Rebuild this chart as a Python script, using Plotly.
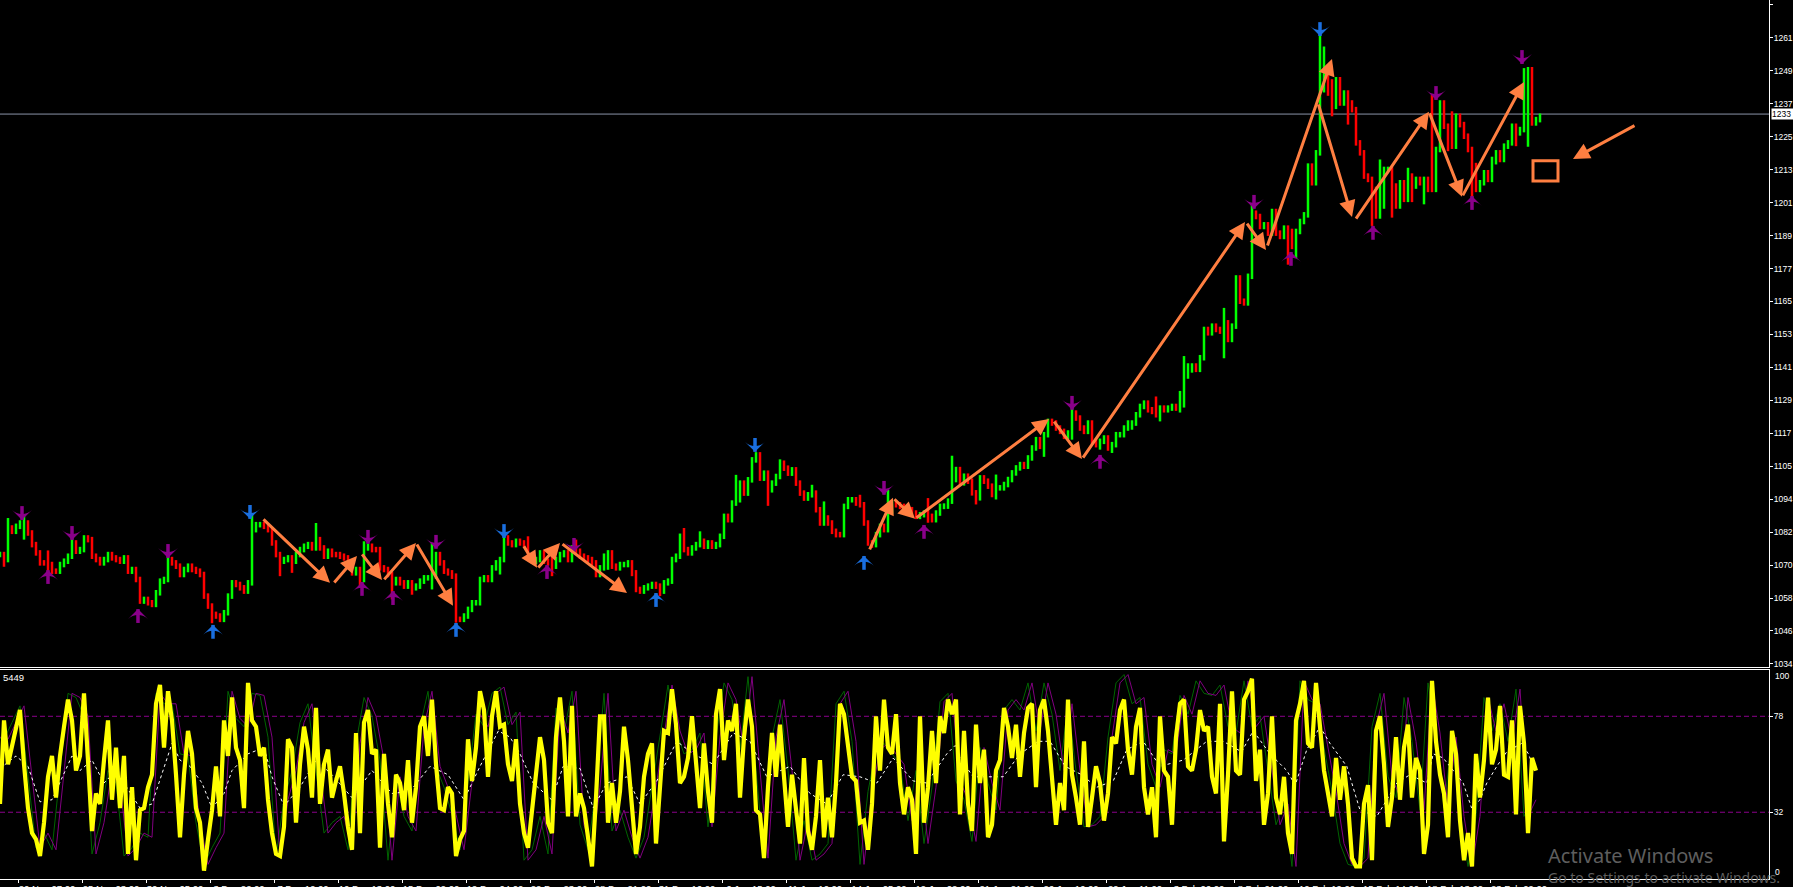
import plotly.graph_objects as go
from plotly.subplots import make_subplots

close_a = [1073.5,1071.7,1083.1,1081.9,1083.7,1084.9,1084.9,1081.3,1077.1,1074.1,1070.5,1070.5,1069.9,1067.5,1067.5,1069.9,1071.1,1072.9,1077.7,1074.7,1075.3,1079.5,1078.9,1072.9,1071.7,1070.5,1071.7,1073.5,1072.3,1071.7,1071.1,1072.3,1067.5,1068.1,1064.5,1056.7,1057.3,1056.1,1055.5,1059.7,1063.9,1064.5,1071.7,1070.5,1069.3,1066.3,1068.1,1069.3,1068.1,1067.5,1066.3,1058.5,1054.9,1051.9,1051.3,1050.1,1052.5,1058.5,1063.3,1062.7,1061.5,1060.3,1063.3,1082.5,1084.3,1084.3,1083.7,1082.5,1077.7,1073.5,1071.1,1071.7,1072.3,1071.1,1073.5,1075.3,1076.5,1077.1,1075.9,1078.9,1075.9,1072.9,1074.7,1073.5,1073.5,1072.9,1072.3,1069.9,1066.9,1068.1,1064.5,1075.9,1076.5,1075.3,1075.3,1068.7,1068.1,1066.3,1063.3,1064.5,1063.3,1062.1,1063.3,1061.5,1062.1,1063.9,1065.1,1065.1,1065.7,1073.5,1070.5,1067.5,1066.9,1065.7,1050.1,1050.1,1051.3,1053.7,1056.1,1056.1,1064.5,1065.1,1064.5,1068.7,1070.5,1071.7]
close_b = [1079.5,1077.7,1077.1,1078.3,1077.7,1077.1,1072.9,1071.1,1071.7,1074.1,1071.1,1070.5,1069.3,1071.7,1073.5,1074.1,1071.7,1075.9,1074.7,1072.9,1072.3,1071.7,1070.5,1066.3,1068.7,1072.9,1074.1,1069.3,1068.7,1069.9,1069.9,1070.5,1066.9,1060.9,1060.3,1061.5,1062.1,1062.7,1062.1,1060.3,1063.3,1063.9,1071.7,1072.9,1080.1,1075.3,1074.1,1075.9,1077.1,1078.3,1076.5,1077.7,1076.5,1077.1,1080.1,1087.3,1086.1,1092.1,1093.3,1099.3,1095.7,1100.5,1107.7,1109.5,1101.1,1102.9,1096.9,1099.3,1101.7,1106.5,1104.7,1102.9,1104.1,1099.3,1095.7,1093.9,1095.1,1095.7,1089.7,1084.9,1086.7,1084.9,1081.9,1080.7,1080.7,1090.9,1093.3,1093.3,1092.1,1091.5,1084.9,1077.7,1077.1,1080.7,1083.7,1082.5,1089.1,1092.1,1091.5,1090.9,1089.1,1089.7,1088.5,1087.3,1087.9,1088.5,1087.3,1086.1,1088.5,1090.9]
close_c = [1091,1092.8,1100.6,1104.2,1099.4,1101.8,1100,1095.8,1094,1101.2,1100,1098.2,1095.2,1097.6,1097.6,1098.8,1100.6,1103,1104.8,1106,1105.4,1108.4,1112,1115,1112.6,1116.8,1121.6,1121,1119.2,1118,1116.2,1117.4,1124.6,1122.8,1119.2,1118,1121,1114.4,1113.2,1114.4,1115.6,1112,1113.2,1116.8,1116.8,1119.2,1121,1121,1124,1127,1128.2,1125.8,1125.2,1124,1126.4,1125.8,1126.4,1127,1126.4,1127.6]
close_d = [1138,1141.6,1141.6,1140.4,1144.6,1154.8,1153.6,1156,1154.8,1154.2,1157.2,1151.2,1156,1173.4,1165,1164.4,1174,1196.8,1195.6,1192,1192.6,1189.6,1197.4,1189.6,1188.4,1191.4,1190.2,1184.8,1190.2,1193.8,1196.2,1213.8,1207.8]
close_e = [1218.6,1241.4,1248.6,1240.2,1235.4,1245,1236.6,1240.2,1236.6,1234.2,1222.2,1218.6,1210.2,1209,1205.4,1195.8,1199.4,1212.6,1212.6,1206.6,1199.4,1207.8,1201.8,1210.2,1206.6,1209,1207.8,1209,1205.4,1205.4,1219.8,1236.6,1228.2,1225.8,1221,1231.8,1228.8,1224.6,1219.8,1213.8,1205.4,1207.8,1211.4,1209,1216.2,1218.6,1216.2,1221,1222.2,1228.2,1225.8,1227,1240.2,1248.6,1229.4,1230.6,1231.8]
closes = close_a + close_b + close_c + close_d + close_e

spike_high_bars = [2,6,12,18,42,63,79,91,108,132,138,144,152,171,175,184,195,203,206,215,222,232,238,249,268,289,295,296,306,313,318,319,330,331,333,345,352,358,363,369,381,383]
spike_high_vals = [1086.7,1087.5,1075,1080.7,1073.9,1087.9,1084.9,1078.3,1077.7,1080.1,1074.7,1078.9,1075,1083.1,1081.9,1102.3,1107.9,1098.7,1092.7,1095.1,1096.9,1093.9,1109.2,1102.4,1127.2,1130.6,1132.6,1145.2,1162.6,1200.4,1198.2,1198,1261.2,1257,1245.2,1216.2,1213.2,1239.6,1233.6,1215,1249.2,1236.2]
spike_low_bars = [1,6,12,53,70,73,90,98,103,108,114,125,138,152,158,165,192,217,218,222,232,244,249,261,268,275,278,283,290,295,297,298,301,306,322,324,326,329,330,333,337,343,345,348,353,356,362,368,374,379,380,382]
spike_low_vals = [1069.1,1078.9,1067,1048.7,1065.7,1066.9,1062.1,1057.3,1059,1060.9,1048.9,1066.3,1065.7,1068,1065.7,1058.5,1091.1,1080.7,1075.9,1086,1085,1091.6,1093.4,1108.8,1115,1111.4,1110.2,1118.6,1121.6,1124.8,1137,1139.2,1150.6,1144.4,1178.2,1180.6,1200.6,1231.8,1228.8,1231.8,1228.8,1192.2,1197.6,1195.2,1200.8,1200,1219.2,1202.4,1214.4,1221,1231.8,1220.8]

stoch_a = [36,76,55,63,73,81,55,34,22,19,11,27,49,59,39,59,73,86,76,52,59,89,57,23,41,36,57,76,38,63,34,59,12,44,9,33,34,44,50,84,93,63,90,76,50,20,50,71,60,34,27,4,19,33,54,30,76,59,87,63,57,34,94,76,73,59,63,38,22,12,11,25,67,63,27,55,73,62,39,82,36,55,62,39,47,54,41,25,14,70,22,75,81,60,62,15,60,36,20,50,46,33,57,27,44,73,78,59,86,55,34,33,44,41,11,19,23,67,47,63,90,81,49,78,90,73]
stoch_b = [74,55,47,67,36,22,15,34,50,68,57,27,22,68,87,66,30,83,30,41,34,19,6,39,78,78,27,46,27,42,73,57,33,12,25,49,60,65,17,42,71,70,91,74,46,49,58,78,55,34,65,42,27,79,91,57,76,71,84,39,68,86,73,33,31,10,44,70,49,74,49,25,50,33,17,58,23,14,30,57,20,39,20,46,84,79,62,49,47,27,28,14,36,78,52,86,63,60,79,46,31,44,38,12,78,27,44,71,46,78,70,86,79,86,31]
stoch_c = [71,36,23,74,46,62,20,26,52,57,82,73,58,74,49,70,82,84,44,81,86,71,49,26,46,33,86,50,39,26,66,25,39,54,46,28,41,68,65,81,86,62,50,73,82,44,31,44,20,78,52,49,26,68,84,86,54,52,62,81,71,73,49,41,84,18,50,90,52,50,86,90,96,47,62,26,41,78,39,31,49,22,12,76,84,95,65,63,94,74,52,41,30,58,38,54,36,10,6,6,36,45,9,71,78,55,25,39,68,38,63,74,39,58,52,12,26]
stoch_d = [95,66,50,41,20,71,60,28,9,22,6,60,39,57,87,55,62,83,50,49,76,31,83,65,22,58,52]
stoch_main = stoch_a + stoch_b + stoch_c + stoch_d

signal_vals = [68,67,75,83,49,15,22,14,51,89,87,78,12,27,52,46,11,15,22,20,89,84,84,60,59,27,7,15,22,90,77,73,89,88,68,11,38,52,75,84,52,22,27,30,14,65,87,78,57,9,49,30,23,73,90,54,44,31,14,46,79,73,89,
 92,74,80,9,14,30,12,82,70,90,26,14,44,89,23,33,20,10,20,44,68,93,71,60,62,70,25,68,94,86,62,97,52,10,68,86,52,9,28,9,12,17,84,90,66,7,42,62,65,60,55,28,52,17,44,85,89,
 47,38,18,63,46,33,81,86,81,94,71,94,79,52,84,52,25,26,30,68,94,98,84,87,55,44,62,60,88,79,95,89,88,93,73,70,95,73,78,52,26,36,6,95,86,84,62,42,17,7,6,10,73,89,49,39,87,66,33,
 94,70,34,68,30,6,30,87,71,84,66,91,30,38]
signal_bars = list(range(0, len(signal_vals) * 2, 2))

avg_bars = [0,4,7,10,13,18,20,23,26,28,31,35,38,43,45,47.5,50.5,53,56,58,62,66,68,71,75,79,83,88,93,98,102.5,107.5,112,116,120,124.6,
 127.5,130,133.3,137.9,140.8,145,148.3,151.7,156.7,160,164.2,169.2,173.3,178.3,183.3,187.5,191.7,197.5,202.5,206.7,210.8,215,219.2,223.3,228.3,231.7,236.7,238.8,
 240,243.3,246.7,250.8,255,259.6,262.5,266.3,270.4,274.2,278.3,281.7,285.8,290,295.8,301.7,305.8,310.4,313.3,317.5,321.7,323.8,326.7,330,332.5,336.7,340,344.2,349.2,352.5,356.7,
 358.3,360.8,362.5,365.8,367.9,370,371.7,374.2,376.7,380.4,382.1,383.3]
avg_vals = [53,59,54,37,38,59,52,57,46,50,46,34,36,65,57,54,46,34,41,52,60,63,49,35,44,57,50,39,52,41,42,54,50,38,54,71,
 68,60,46,38,54,53,34,46,49,36,47,66,60,55,70,66,49,54,41,36,50,49,46,58,47,46,60,64,
 58,49,49,49,60,66,66,54,50,44,47,62,66,54,57,66,66,61,71,60,52,45,62,73,65,54,33,30,46,50,46,
 60,58,54,46,34,38,46,54,61,65,60,54]

down_purple_bars = [5.5,18,42,92,109,143.5,221,268,313.5,359,380.5]
down_purple_vals = [1086,1078.8,1072.3,1077.4,1075.6,1074.5,1095.1,1125.8,1198.4,1237.7,1250.7]
down_blue_bars = [62.5,126,188.75,330]
down_blue_vals = [1086.4,1079.5,1110.6,1260.8]
up_purple_bars = [12,34.5,90.5,98.25,136.75,231,275,322.75,343.25,368]
up_purple_vals = [1067.9,1053.8,1063.6,1060.3,1069.7,1084.2,1109.5,1182.8,1192.2,1203]
up_blue_bars = [53.25,114,164,216]
up_blue_vals = [1048.1,1048.8,1059.6,1073]

arrow_from_bar = [65.5,83.25,90.25,95.75,104,130.75,134.25,140.25,217.25,223.25,228.75,263.25,270.5,311.5,316.75,329.5,338.75,357.25,365.5,409]
arrow_from_val = [1086.7,1062.9,1074.1,1064,1077.7,1077,1068.3,1077.7,1074.8,1094,1086.4,1122.1,1108,1193.6,1184.6,1236.6,1194.3,1233.4,1202.7,1228.7]
arrow_to_bar = [82.5,89.25,95.5,104,113.25,134.25,140,156.75,223.25,228.75,262.25,270.5,311.25,316.5,333,338,357.25,365.5,381,393.25]
arrow_to_val = [1063.3,1073,1064.3,1077.7,1055,1068.7,1077.7,1059.6,1094,1086.4,1122.5,1108,1193.6,1183.5,1252.5,1195.4,1233.4,1202.7,1244.2,1216.4]

box_bars = [383.25, 389.5]
box_vals = [1208.4, 1215.7]
last_price = 1232.6

price_ticks = [1272,1260.1,1248.2,1236.3,1224.4,1212.5,1200.6,1188.7,1176.8,1164.9,1153,1141.1,1129.2,1117.3,1105.4,1093.5,1081.6,1069.7,1057.8,1045.9,1034]
price_labels = ["1272","1261","1249","1237","1225","1213","1201","1189","1177","1165","1153","1141","1129","1117","1105","1094","1082","1070","1058","1046","1034"]
time_ticks = [4.5 + 16 * k for k in range(24)]
time_labels = ["20 Nov 07:00","25 Nov 03:00","30 Nov 05:00","3 Dec 22:00","7 Dec 19:00","10 Dec 13:00","15 Dec 09:00","19 Dec 04:00","22 Dec 23:00","28 Dec 21:00","31 Dec 16:00","6 Jan 15:00","11 Jan 10:00","14 Jan 05:00","19 Jan 02:00","21 Jan 21:00","26 Jan 16:00","29 Jan 11:00","3 Feb 06:00","8 Feb 01:00","10 Feb 19:00","15 Feb 14:00","18 Feb 13:00","23 Feb 09:00"]

ORANGE = "#FF7F41"
PURPLE = "#8A008A"
BLUE = "#1A6FE0"
FONT = "Liberation Sans"
WICK_PAD = 1.0

bars = list(range(len(closes)))
opens = [closes[0]] + closes[:-1]
highs = [max(o, c) + WICK_PAD for o, c in zip(opens, closes)]
lows = [min(o, c) - WICK_PAD for o, c in zip(opens, closes)]
for b, v in zip(spike_high_bars, spike_high_vals):
    highs[b] = max(highs[b], v)
for b, v in zip(spike_low_bars, spike_low_vals):
    lows[b] = min(lows[b], v)

fig = make_subplots(rows=2, cols=1, shared_xaxes=False, vertical_spacing=0)

fig.add_trace(go.Ohlc(x=bars, open=opens, high=highs, low=lows, close=closes, tickwidth=0,
    increasing=dict(line=dict(color="#00FF00", width=2.5)),
    decreasing=dict(line=dict(color="#FF0000", width=2.5))), row=1, col=1)

def arrows(xs, ys, color, pointing_down):
    stem = [5.0] * len(xs)
    err = dict(type="data", symmetric=False, array=stem if pointing_down else [0] * len(xs),
               arrayminus=[0] * len(xs) if pointing_down else stem,
               thickness=3.5, width=0, color=color)
    fig.add_trace(go.Scatter(x=xs, y=ys, mode="markers", error_y=err,
        marker=dict(symbol="arrow-wide", size=14, color=color, angle=180 if pointing_down else 0,
                    line=dict(width=0)), cliponaxis=False), row=1, col=1)

arrows(down_purple_bars, down_purple_vals, PURPLE, True)
arrows(down_blue_bars, down_blue_vals, BLUE, True)
arrows(up_purple_bars, up_purple_vals, PURPLE, False)
arrows(up_blue_bars, up_blue_vals, BLUE, False)

fig.add_trace(go.Scatter(x=[b - 1 for b in signal_bars], y=signal_vals, mode="lines",
    line=dict(color="#006400", width=1)), row=2, col=1)
fig.add_trace(go.Scatter(x=signal_bars, y=signal_vals, mode="lines",
    line=dict(color="#800080", width=1)), row=2, col=1)
fig.add_trace(go.Scatter(x=avg_bars, y=avg_vals, mode="lines",
    line=dict(color="#FFFFFF", width=1, dash="dot")), row=2, col=1)
fig.add_trace(go.Scatter(x=list(range(len(stoch_main))), y=stoch_main, mode="lines",
    line=dict(color="#FFFF00", width=4.2, shape="linear")), row=2, col=1)

x_range = [0, 442.25]
common_x = dict(range=x_range, showgrid=False, zeroline=False, showline=True, linecolor="white", linewidth=1,
                rangeslider=dict(visible=False), automargin=False)
fig.update_xaxes(domain=[0, 1], showticklabels=False, ticks="", **common_x, row=1, col=1)
fig.update_xaxes(domain=[0, 1], mirror=True, ticks="outside", ticklen=3, tickcolor="white", tickwidth=1,
    tickmode="array", tickvals=time_ticks, ticktext=time_labels, ticklabelshift=29, ticklabelstandoff=-2,
    tickfont=dict(family=FONT, size=9.5, color="white"), **common_x, row=2, col=1)
fig.update_yaxes(domain=[0.2412, 1], range=[1032.9, 1273.8], side="right", showgrid=False, zeroline=False, automargin=False,
    showline=True, linecolor="white", linewidth=1, ticks="outside", ticklen=3, tickcolor="white", tickwidth=1,
    tickmode="array", tickvals=price_ticks, ticktext=price_labels, ticklabelstandoff=-1,
    tickfont=dict(family=FONT, size=8.5, color="white"), row=1, col=1)
fig.update_yaxes(domain=[0, 0.2378], range=[0, 100.2], side="right", showgrid=False, zeroline=False, automargin=False,
    showline=True, linecolor="white", linewidth=1, ticks="outside", ticklen=3, tickcolor="white", tickwidth=1,
    tickmode="array", tickvals=[78, 32], ticktext=["78", "32"], ticklabelstandoff=-1,
    tickfont=dict(family=FONT, size=8.5, color="white"), row=2, col=1)

shapes = [
    dict(type="line", xref="x", yref="y", x0=x_range[0], x1=x_range[1], y0=last_price, y1=last_price,
         line=dict(color="#8A94A8", width=1), layer="below"),
    dict(type="line", xref="x2", yref="y2", x0=x_range[0], x1=x_range[1], y0=78, y1=78,
         line=dict(color="#8B008B", width=1, dash="5px,3px"), layer="below"),
    dict(type="line", xref="x2", yref="y2", x0=x_range[0], x1=x_range[1], y0=32, y1=32,
         line=dict(color="#8B008B", width=1, dash="5px,3px"), layer="below"),
    dict(type="rect", xref="x", yref="y", x0=box_bars[0], x1=box_bars[1], y0=box_vals[0], y1=box_vals[1],
         line=dict(color=ORANGE, width=3), fillcolor="rgba(0,0,0,0)"),
]

annotations = []
for x0, y0, x1, y1 in zip(arrow_from_bar, arrow_from_val, arrow_to_bar, arrow_to_val):
    annotations.append(dict(x=x1, y=y1, ax=x0, ay=y0, xref="x", yref="y", axref="x", ayref="y", text="",
        showarrow=True, arrowhead=2, arrowsize=1.1, arrowwidth=3, arrowcolor=ORANGE))
annotations += [
    dict(text="1233", xref="paper", yref="y", x=1771 / 1769, y=last_price, xanchor="left", yanchor="middle",
         showarrow=False, bgcolor="white", width=22, height=10, align="left",
         font=dict(family=FONT, size=8.5, color="black"), borderpad=0),
    dict(text="100", xref="paper", yref="y2", x=1773 / 1769, y=97.3, xanchor="left", yanchor="middle",
         showarrow=False, font=dict(family=FONT, size=8.5, color="white")),
    dict(text="0", xref="paper", yref="y2", x=1773 / 1769, y=3.3, xanchor="left", yanchor="middle",
         showarrow=False, font=dict(family=FONT, size=8.5, color="white")),
    dict(text="5449", xref="paper", yref="y2", x=1 / 1769, y=96.5, xanchor="left", yanchor="middle",
         showarrow=False, font=dict(family=FONT, size=9.5, color="white")),
    dict(text="Activate Windows", xref="paper", yref="paper", x=1546 / 1769, y=(879 - 855) / 879, xanchor="left", yanchor="middle",
         showarrow=False, font=dict(family="Noto Sans", size=20, color="#5E5E5E")),
    dict(text="Go to Settings to activate Windows.", xref="paper", yref="paper", x=1546 / 1769, y=(879 - 877) / 879, xanchor="left", yanchor="middle",
         showarrow=False, font=dict(family="Noto Sans", size=14, color="#5E5E5E")),
]

fig.update_layout(width=1793, height=887, margin=dict(l=0, r=24, t=0, b=8, autoexpand=False), paper_bgcolor="black", plot_bgcolor="black",
    showlegend=False, shapes=shapes, annotations=annotations, font=dict(family=FONT, color="white"))

fig.write_html("out.html", config=dict(displayModeBar=False),
    post_script="document.body.style.margin='0';document.body.style.overflow='hidden';document.body.style.background='black';")
